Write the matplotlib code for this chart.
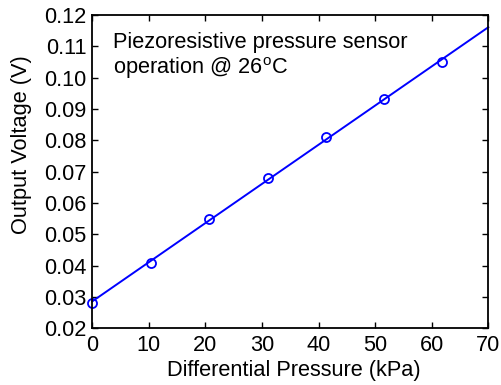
import numpy as np
import matplotlib
matplotlib.use('Agg')
import matplotlib.pyplot as plt
from matplotlib.ticker import FormatStrFormatter, MultipleLocator

plt.rcParams['font.family'] = ['Liberation Sans', 'DejaVu Sans']
plt.rcParams['mathtext.fontset'] = 'custom'
plt.rcParams['mathtext.rm'] = 'Liberation Sans'

# measured sensor output
pressure = [0.0, 10.3, 20.7, 31.0, 41.3, 51.6, 61.9]   # kPa
voltage = [0.0281, 0.0409, 0.0550, 0.0681, 0.0810, 0.0931, 0.1050]  # V

# linear fit over the full axis range
slope, offset = np.polyfit(pressure, voltage, 1)
fit_x = np.array([0.0, 70.0])
fit_y = slope * fit_x + offset

fig = plt.figure(figsize=(5.02, 3.85), dpi=100)
ax = fig.add_axes([0.1839, 0.1473, 0.7888, 0.8137])

ax.plot(fit_x, fit_y, color='#0000ff', lw=1.4, clip_on=False)
ax.plot(pressure, voltage, 'o', mfc='none', mec='#0000ff', ms=6.5, mew=1.3,
        clip_on=False)

ax.set_xlim(0, 70)
ax.set_ylim(0.02, 0.12)
ax.xaxis.set_major_locator(MultipleLocator(10))
ax.yaxis.set_major_locator(MultipleLocator(0.01))
ax.yaxis.set_major_formatter(FormatStrFormatter('%.2f'))
ax.tick_params(direction='in', length=4, width=1.0, top=True, right=True,
               labelsize=15.7, color='black')
ax.tick_params(axis='x', pad=4.7)
ax.tick_params(axis='y', pad=4)
for s in ax.spines.values():
    s.set_linewidth(1.3)

ax.set_xlabel('Differential Pressure (kPa)', fontsize=15.7)
ax.set_ylabel('Output Voltage (V)', fontsize=15.7)
ax.xaxis.set_label_coords(0.509, -0.102)
ax.yaxis.set_label_coords(-0.152, 0.585)

ax.text(0.052, 0.947, 'Piezoresistive pressure sensor\noperation @ 26$^\\mathrm{o}$C',
        transform=ax.transAxes, fontsize=15.7, va='top', ha='left',
        linespacing=1.12)

fig.savefig('out.png', dpi=100)
